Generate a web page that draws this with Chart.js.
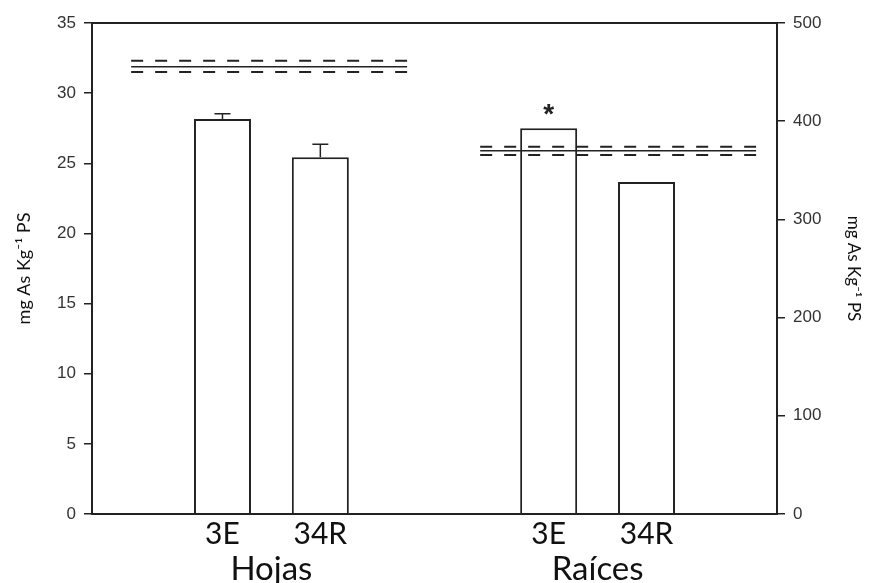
<!DOCTYPE html>
<html>
<head>
<meta charset="utf-8">
<script src="https://cdn.jsdelivr.net/npm/chart.js@4.4.1/dist/chart.umd.min.js"></script>
<style>
  html, body { margin: 0; padding: 0; background: #fff; }
  #contenedor { width: 869px; height: 583px; }
</style>
</head>
<body>
<div id="contenedor"><canvas id="graficoArsenico"></canvas></div>
<script>
// Datos
const categorias = ['3E', '34R', '3E', '34R'];
const grupos = ['Hojas', 'Raíces'];
const posicionesX = [4, 7, 14, 17];          // posición de cada barra en el eje x
const hojas = [28.16, 25.43];                 // eje izquierdo (mg As Kg-1 PS)
const erroresHojas = [0.37, 0.92];
const raices = [392.8, 338.1];                // eje derecho (mg As Kg-1 PS)
const marcasRaices = ['*', ''];
const lineasHojas = [32.31, 31.88, 31.51];    // discontinua, continua, discontinua
const lineasRaices = [374.0, 370.0, 365.6];
const tramoHojas = [1.2, 9.66];
const tramoRaices = [11.9, 20.36];

const negro = '#222';

function lineaReferencia(valor, tramo, eje, discontinua) {
  return {
    type: 'line',
    data: tramo.map(x => ({ x: x, y: valor })),
    yAxisID: eje,
    borderColor: negro,
    borderWidth: discontinua ? 2 : 1.5,
    borderDash: discontinua ? [12, 12] : [],
    pointRadius: 0,
    fill: false,
    order: 0
  };
}

function barras(valores, desde, eje) {
  return {
    type: 'bar',
    data: valores.map((v, i) => ({ x: posicionesX[desde + i], y: v })),
    yAxisID: eje,
    backgroundColor: '#fff',
    borderColor: negro,
    borderWidth: 2,
    grouped: false,
    categoryPercentage: 1,
    barPercentage: 0.5825,
    order: 1
  };
}

const datasets = [
  ...lineasHojas.map((v, i) => lineaReferencia(v, tramoHojas, 'y', i !== 1)),
  ...lineasRaices.map((v, i) => lineaReferencia(v, tramoRaices, 'y1', i !== 1)),
  barras(hojas, 0, 'y'),
  barras(raices, 2, 'y1')
];

// Marco, barras de error, asterisco y nombres de grupo
const extras = {
  id: 'extras',
  afterDatasetsDraw(chart) {
    const ctx = chart.ctx;
    const n = datasets.length;
    const metaHojas = chart.getDatasetMeta(n - 2);
    const metaRaices = chart.getDatasetMeta(n - 1);
    ctx.save();
    ctx.strokeStyle = negro;
    ctx.lineWidth = 1.5;
    metaHojas.data.forEach((bar, i) => {
      const yErr = chart.scales.y.getPixelForValue(hojas[i] + erroresHojas[i]);
      ctx.beginPath();
      ctx.moveTo(bar.x, bar.y);
      ctx.lineTo(bar.x, yErr);
      ctx.moveTo(bar.x - 8, yErr);
      ctx.lineTo(bar.x + 8, yErr);
      ctx.stroke();
    });
    ctx.fillStyle = negro;
    ctx.font = 'bold 28px "Liberation Sans"';
    ctx.textAlign = 'center';
    ctx.textBaseline = 'alphabetic';
    metaRaices.data.forEach((bar, i) => {
      if (marcasRaices[i]) ctx.fillText(marcasRaices[i], bar.x, bar.y - 5);
    });
    ctx.restore();
  },
  afterDraw(chart) {
    const ctx = chart.ctx;
    const a = chart.chartArea;
    const x = chart.scales.x;
    ctx.save();
    ctx.strokeStyle = negro;
    ctx.lineWidth = 2;
    ctx.strokeRect(a.left, a.top, a.right - a.left, a.bottom - a.top);
    ctx.fillStyle = '#111';
    ctx.font = '33px Lato';
    ctx.textAlign = 'center';
    ctx.textBaseline = 'alphabetic';
    grupos.forEach((g, i) => {
      const cx = (x.getPixelForValue(posicionesX[2 * i]) + x.getPixelForValue(posicionesX[2 * i + 1])) / 2;
      ctx.fillText(g, cx, 580);
    });
    ctx.restore();
  }
};

const ctx = document.getElementById('graficoArsenico').getContext('2d');
new Chart(ctx, {
  type: 'bar',
  data: { datasets: datasets },
  options: {
    responsive: true,
    maintainAspectRatio: false,
    animation: false,
    layout: { padding: { top: 23, left: 0, right: 0, bottom: 0 } },
    plugins: {
      legend: { display: false },
      tooltip: { enabled: false }
    },
    scales: {
      x: {
        type: 'linear',
        min: 0,
        max: 21,
        offset: false,
        afterBuildTicks: s => { s.ticks = posicionesX.map(v => ({ value: v })); },
        afterFit: s => { s.height = 69; },
        ticks: {
          autoSkip: false,
          maxRotation: 0,
          padding: 2,
          color: '#111',
          font: { family: 'Lato', size: 30 },
          callback: (v, i) => categorias[i]
        },
        grid: { display: false, drawTicks: false, offset: false },
        border: { display: false }
      },
      y: {
        position: 'left',
        min: 0,
        max: 35,
        afterFit: s => { s.width = 92; },
        ticks: { stepSize: 5, padding: 8, color: '#333', font: { family: 'Liberation Sans', size: 17 } },
        grid: { drawOnChartArea: false, tickLength: 8, color: negro, lineWidth: 1.5 },
        border: { display: false },
        title: {
          display: true,
          text: 'mg As Kg⁻¹ PS',
          color: '#111',
          font: { family: 'Lato', size: 18 },
          padding: { top: 13, bottom: 0 }
        }
      },
      y1: {
        position: 'right',
        min: 0,
        max: 500,
        afterFit: s => { s.width = 92; },
        ticks: { stepSize: 100, padding: 8, color: '#333', font: { family: 'Liberation Sans', size: 17 } },
        grid: { drawOnChartArea: false, tickLength: 8, color: negro, lineWidth: 1.5 },
        border: { display: false },
        title: {
          display: true,
          text: 'mg As Kg⁻¹ PS',
          color: '#111',
          font: { family: 'Lato', size: 17 },
          padding: { top: 5, bottom: 0 }
        }
      }
    }
  },
  plugins: [extras]
});
</script>
</body>
</html>
